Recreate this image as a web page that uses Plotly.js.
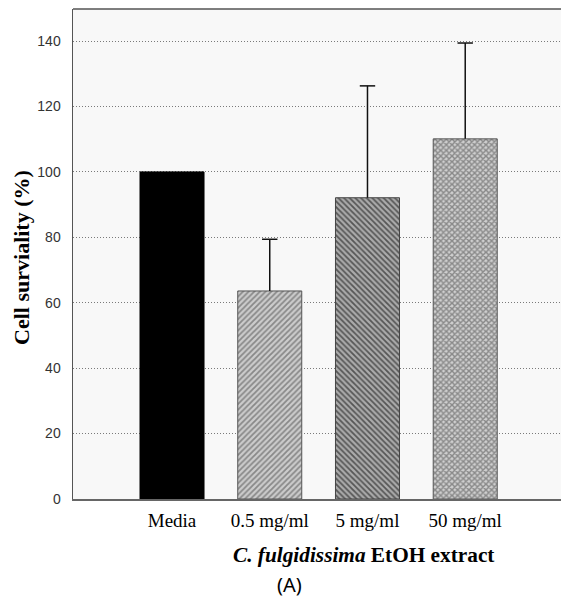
<!DOCTYPE html>
<html>
<head>
<meta charset="utf-8">
<script src="https://cdn.plot.ly/plotly-3.0.1.min.js"></script>
<style>html,body{margin:0;padding:0;background:#fff;}#chart{width:561px;height:601px;}</style>
</head>
<body>
<div id="chart"></div>
<script>
var categories = ['Media', '0.5 mg/ml', '5 mg/ml', '50 mg/ml'];
var survival = [100, 63.6, 92.1, 110.1];
var errorUp = [0, 15.8, 34.2, 29.3];
var yTicks = [0, 20, 40, 60, 80, 100, 120, 140];

var barTrace = {
  type: 'bar',
  x: categories,
  y: survival,
  width: 0.655,
  marker: {
    color: ['#000000', '#cccccc', '#565656', '#cfcfcf'],
    line: {color: ['#000000', '#555555', '#444444', '#555555'], width: 1},
    pattern: {
      shape: ['', '/', '\\', 'x'],
      fgcolor: ['#000000', '#444444', '#151515', '#2a2a2a'],
      size: [6, 4, 4, 4],
      solidity: [0.3, 0.45, 0.55, 0.6],
      fillmode: 'overlay'
    }
  },
  hoverinfo: 'skip'
};

// error bar stems (upper only) built from the data arrays
var stemX = [], stemY = [], capX = [], capY = [];
categories.forEach(function (c, i) {
  if (errorUp[i] > 0) {
    stemX.push(c, c, null);
    stemY.push(survival[i], survival[i] + errorUp[i], null);
    capX.push(c);
    capY.push(survival[i] + errorUp[i]);
  }
});

var stemTrace = {
  type: 'scatter', mode: 'lines', x: stemX, y: stemY,
  line: {color: '#111111', width: 1.5}, hoverinfo: 'skip', connectgaps: false
};
var capTrace = {
  type: 'scatter', mode: 'markers', x: capX, y: capY,
  marker: {symbol: 'line-ew-open', size: 11, color: '#111111', line: {color: '#111111', width: 1.5}},
  hoverinfo: 'skip'
};

var layout = {
  width: 561,
  height: 601,
  margin: {l: 73, r: 0, t: 9, b: 102},
  paper_bgcolor: '#ffffff',
  plot_bgcolor: '#f8f8f8',
  showlegend: false,
  xaxis: {
    type: 'category',
    range: [-1.013, 3.98],
    showgrid: false,
    zeroline: false,
    showline: true,
    linecolor: '#666666',
    linewidth: 1.5,
    ticks: '',
    tickfont: {family: 'Liberation Serif, Times New Roman, serif', size: 19, color: '#000'},
    ticklabelstandoff: 4
  },
  yaxis: {
    range: [0, 149.8],
    tickvals: yTicks,
    ticktext: yTicks.map(String),
    showgrid: true,
    gridcolor: '#7a7a7a',
    griddash: '1px,2px',
    gridwidth: 1,
    zeroline: false,
    showline: true,
    linecolor: '#555555',
    linewidth: 1.5,
    ticks: '',
    tickfont: {family: 'Liberation Sans, Arial, sans-serif', size: 14, color: '#333'},
    ticklabelstandoff: 8
  },
  shapes: [
    {type: 'line', xref: 'paper', yref: 'paper', x0: 0, x1: 1, y0: 1, y1: 1,
     line: {color: '#555555', width: 1.5}}
  ],
  annotations: [
    {text: 'Cell surviality (%)', xref: 'paper', yref: 'paper', x: -0.1045, y: 0.492,
     xanchor: 'center', yanchor: 'middle', textangle: -90, showarrow: false,
     font: {family: 'Liberation Serif, Times New Roman, serif', size: 22, color: '#000', weight: 'bold'}},
    {text: '<b><i>C. fulgidissima</i> EtOH extract</b>', xref: 'paper', yref: 'paper', x: 0.596, y: -0.115,
     xanchor: 'center', yanchor: 'middle', showarrow: false,
     font: {family: 'Liberation Serif, Times New Roman, serif', size: 21.3, color: '#000'}},
    {text: '(A)', xref: 'paper', yref: 'paper', x: 0.4437, y: -0.1755,
     xanchor: 'center', yanchor: 'middle', showarrow: false,
     font: {family: 'Noto Sans, DejaVu Sans, sans-serif', size: 20, color: '#000'}}
  ]
};

Plotly.newPlot('chart', [barTrace, stemTrace, capTrace], layout, {displayModeBar: false, staticPlot: true});
</script>
</body>
</html>
